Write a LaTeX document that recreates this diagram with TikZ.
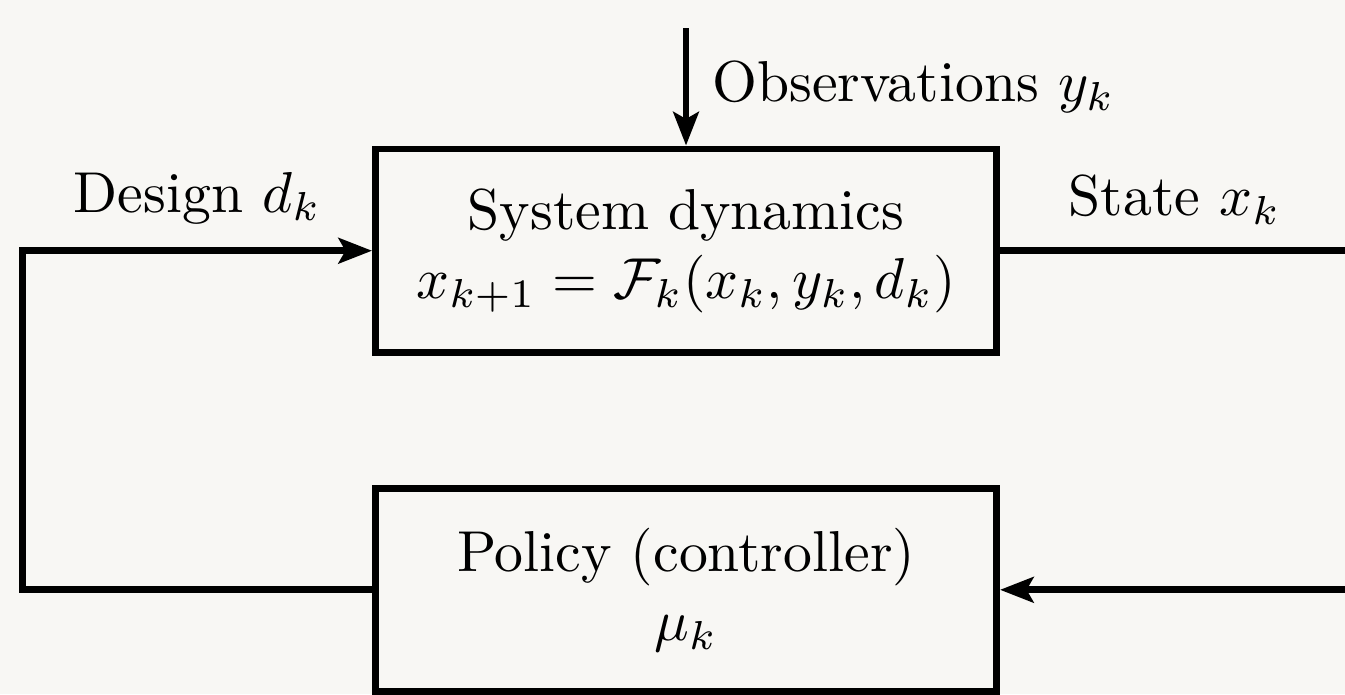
\documentclass[tikz,border=0pt]{standalone}
\usetikzlibrary{arrows.meta}
\definecolor{paper}{HTML}{F8F7F4}
\begin{document}
\begin{tikzpicture}[scale=1,very thick,>={Stealth[length=5.8pt,width=4.4pt,inset=1.2pt]},
sysblock/.style={draw,rectangle,align=center,inner sep=2pt,minimum width=3.782cm,minimum height=1.239cm,very thick},
sig/.style={inner sep=0pt}]
% page and background
\fill[paper] (-4.178,1.527) rectangle (4.013,-2.700);
\useasboundingbox (-4.178,1.527) rectangle (4.013,-2.700);
\draw (0,0) node[sysblock] (sys) {System dynamics\\ $x_{k+1}=\mathcal{F}_k(x_k,y_k,d_k)$};
\draw (0,-2.065) node[sysblock] (pol) {Policy (controller)\\ $\mu_k$};
\coordinate (obs) at (0,1.356);
\coordinate (dl) at (-4.04,0);
\coordinate (sr) at (4.04,0);
\draw[->] (obs) -- (sys.north) node[sig,midway,right=4pt] {Observations $y_k$};
\draw[->] (pol.west) -| (dl) -- (sys.west) node[sig,midway,above=4pt] {Design $d_k$};
\draw[->] (sys.east) -- (sr) node[sig,midway,above=4pt] {State $x_k$} |- (pol.east);
\end{tikzpicture}
\end{document}
